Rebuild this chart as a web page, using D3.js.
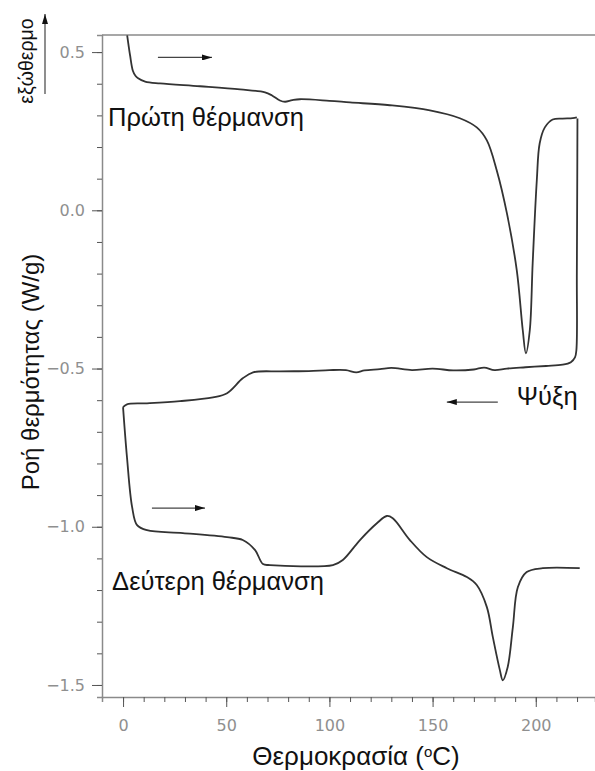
<!DOCTYPE html>
<html><head><meta charset="utf-8">
<script src="https://cdn.jsdelivr.net/npm/d3@7"></script>
<style>body{margin:0;background:#fff}svg{display:block}</style>
</head><body>
<svg id="c" width="595" height="771"></svg>
<script>
// ---- data ----
const heating1 = [[2,0.553],[3.4,0.49],[4.8,0.44],[6,0.425],[7.3,0.417],[10.7,0.407],[17.9,0.401],[37.3,0.392],[56.7,0.382],[68.8,0.373],[72.2,0.363],[76,0.347],[78.5,0.343],[82,0.348],[85.7,0.351],[100,0.346],[110,0.341],[129.3,0.332],[148.7,0.316],[163.2,0.291],[171.4,0.262],[176.3,0.221],[181.1,0.126],[186,-0.009],[190.8,-0.19],[193.7,-0.379],[195.2,-0.452],[197.1,-0.379],[198.5,-0.167],[200.5,0.095],[201.9,0.212],[204.4,0.262],[208.2,0.287],[213,0.29],[217.9,0.291],[219.9,0.294]];
const cooling = [[220.2,0.29],[220.1,0.1],[219.9,-0.2],[219.7,-0.44],[219,-0.465],[217,-0.48],[213,-0.488],[205,-0.492],[195,-0.496],[186,-0.5],[180,-0.505],[175,-0.497],[170,-0.503],[160,-0.506],[150,-0.5],[140,-0.505],[130,-0.498],[124.5,-0.502],[117,-0.506],[113,-0.512],[108,-0.505],[100,-0.505],[90,-0.508],[76,-0.509],[63,-0.512],[58,-0.531],[50.4,-0.578],[43.6,-0.591],[27.6,-0.603],[11.6,-0.61],[1.9,-0.613],[0,-0.622]];
const heating2 = [[0,-0.622],[1.9,-0.78],[4.4,-0.938],[6.8,-0.995],[11.6,-1.011],[29,-1.02],[50.4,-1.033],[58,-1.042],[64,-1.074],[67.8,-1.118],[71.2,-1.121],[101.7,-1.121],[106.5,-1.105],[114.8,-1.042],[123,-0.989],[127.8,-0.966],[130.7,-0.973],[139,-1.042],[147.2,-1.096],[156.9,-1.131],[166.6,-1.159],[171.4,-1.184],[176.3,-1.254],[179.2,-1.349],[182.6,-1.453],[184,-1.485],[186.4,-1.443],[188.9,-1.317],[191.3,-1.191],[195.6,-1.143],[203.4,-1.131],[221.3,-1.131]];
const xTickLabels = [0,50,100,150,200];
const yTickLabels = [0.5,0.0,-0.5,-1.0,-1.5];
const labels = [
  {text:"Πρώτη θέρμανση", x:-7.3, y:0.265},
  {text:"Δεύτερη θέρμανση", x:-5.3, y:-1.2},
  {text:"Ψύξη", x:190.8, y:-0.616}
];
const arrows = [
  {x1:16.9, x2:43.1, y:0.483},
  {x1:181.6, x2:156.9, y:-0.606},
  {x1:14, x2:39.7, y:-0.941}
];

// ---- chart ----
const svg = d3.select("#c");
const x = d3.scaleLinear().domain([-10.2, 228.7]).range([102, 595]);
const y = d3.scaleLinear().domain([-1.538, 0.554]).range([697, 35]);
const axisCol = "#8a8a8a", tickTxt = "#8f8f8f";
const FONT = "Liberation Sans, Arial, sans-serif";

// top frame line
svg.append("line").attr("x1",102).attr("x2",595).attr("y1",y(0.554)).attr("y2",y(0.554))
  .attr("stroke",axisCol).attr("stroke-width",1.5);

// Y axis
const yMinor = d3.range(-15,6).map(d=>d/10);
const yAx = svg.append("g").attr("transform","translate(102,0)")
  .call(d3.axisLeft(y).tickValues(yMinor).tickSize(5).tickFormat(""));
yAx.select(".domain").attr("stroke",axisCol).attr("stroke-width",1.5);
yAx.selectAll(".tick line").attr("stroke","#555");
const yMaj = svg.append("g").attr("transform","translate(102,0)")
  .call(d3.axisLeft(y).tickValues(yTickLabels).tickSize(10).tickPadding(7).tickFormat(d3.format(".1f")));
yMaj.select(".domain").remove();
yMaj.selectAll(".tick line").attr("stroke","#555");
yMaj.selectAll(".tick text").attr("fill",tickTxt).style("font-family","DejaVu Sans, sans-serif").style("font-size","16px")
  .text(d=>d3.format(".1f")(d).replace("-","\u2212"));

// X axis
const xMinor = d3.range(0,221,10);
const xAx = svg.append("g").attr("transform","translate(0,697)")
  .call(d3.axisBottom(x).tickValues(xMinor).tickSize(5).tickFormat(""));
xAx.select(".domain").attr("stroke",axisCol).attr("stroke-width",1.5);
xAx.selectAll(".tick line").attr("stroke","#555");
const xMaj = svg.append("g").attr("transform","translate(0,697)")
  .call(d3.axisBottom(x).tickValues(xTickLabels).tickSize(10).tickPadding(13));
xMaj.select(".domain").remove();
xMaj.selectAll(".tick line").attr("stroke","#555");
xMaj.selectAll(".tick text").attr("fill",tickTxt).style("font-family","DejaVu Sans, sans-serif").style("font-size","16px");

// curves
const line = d3.line().x(d=>x(d[0])).y(d=>y(d[1])).curve(d3.curveCatmullRom.alpha(0.5));
[heating1, cooling, heating2].forEach(s=>{
  svg.append("path").datum(s).attr("d",line).attr("fill","none")
    .attr("stroke","#333").attr("stroke-width",1.8).attr("stroke-linejoin","round");
});

// arrows
svg.append("defs").append("marker").attr("id","ah").attr("viewBox","0 0 10 6")
  .attr("refX",10).attr("refY",3).attr("markerWidth",12).attr("markerHeight",6)
  .attr("markerUnits","userSpaceOnUse").attr("orient","auto")
  .append("path").attr("d","M0,0 L10,3 L0,6 Z").attr("fill","#111");
arrows.forEach(a=>{
  svg.append("line").attr("x1",x(a.x1)).attr("x2",x(a.x2)).attr("y1",y(a.y)).attr("y2",y(a.y))
    .attr("stroke","#444").attr("stroke-width",1.2).attr("marker-end","url(#ah)");
});

// labels
labels.forEach(l=>{
  svg.append("text").attr("x",x(l.x)).attr("y",y(l.y)).text(l.text)
    .style("font-family",FONT).style("font-size","25.5px").attr("fill","#111");
});

// axis titles
svg.append("text").attr("transform","translate(39,372) rotate(-90)").attr("text-anchor","middle")
  .style("font-family",FONT).style("font-size","24px").attr("fill","#111")
  .text("Ροή θερμότητας (W/g)");
const xt = svg.append("text").attr("x",356).attr("y",765).attr("text-anchor","middle")
  .style("font-family",FONT).style("font-size","26px").attr("fill","#111");
xt.append("tspan").text("Θερμοκρασία (");
xt.append("tspan").text("o").attr("dy","-8").style("font-size","15px");
xt.append("tspan").text("C)").attr("dy","8");

// exotherm indicator
svg.append("text").attr("transform","translate(33,61) rotate(-90)").attr("text-anchor","middle")
  .style("font-family",FONT).style("font-size","19.5px").attr("fill","#111")
  .text("εξώθερμο");
svg.append("line").attr("x1",45).attr("x2",45).attr("y1",94).attr("y2",14)
  .attr("stroke","#444").attr("stroke-width",1.2).attr("marker-end","url(#ah)");
</script>
</body></html>
